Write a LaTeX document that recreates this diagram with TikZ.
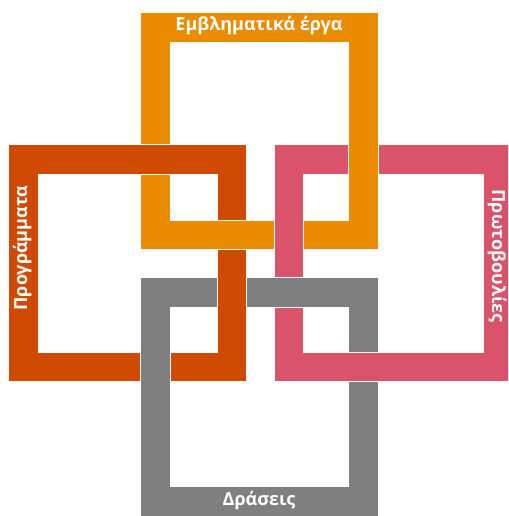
\documentclass[tikz,border=0pt]{standalone}
\usepackage{fontspec}
\setmainfont{Open Sans}
\definecolor{tangerine}{HTML}{EB8C00}
\definecolor{rust}{HTML}{D04A02}
\definecolor{rose}{HTML}{DB536A}
\definecolor{slate}{HTML}{7F7F7F}
\begin{document}
\begin{tikzpicture}
    [x=1pt, y=-1pt,
      frame/.style={fill=#1, even odd rule, draw=white, line width=0.7pt},
      patch/.style={fill=#1},
      edge/.style={draw=white, line width=0.7pt},
      nametext/.style={text=white, inner sep=0pt,
        font=\bfseries\fontsize{18}{18}\selectfont},
     ]
    \useasboundingbox (0,0) rectangle (508,516);
    \clip (0,0) rectangle (508,516);
    % the four frames
    \path[frame=tangerine] (140,12) rectangle (378,249) (170,42) rectangle (348,220);
    \path[frame=rust] (8,144) rectangle (246,381) (38,174) rectangle (217,352);
    \path[frame=rose] (274,144) rectangle (512,381) (303,174) rectangle (483,352);
    \path[frame=slate] (140,277) rectangle (378,516) (170,307) rectangle (348,486);
    % crossings where the earlier frame lies on top
    \fill[patch=tangerine] (216,220) rectangle (247,249);
    \draw[edge] (216,220) -- (247,220) (216,249) -- (247,249);
    \fill[patch=tangerine] (348,143) rectangle (378,175);
    \draw[edge] (348,143) -- (348,175) (378,143) -- (378,175);
    \fill[patch=rust] (217,276) rectangle (246,308);
    \draw[edge] (217,276) -- (217,308) (246,276) -- (246,308);
    \fill[patch=rose] (347,352) rectangle (379,381);
    \draw[edge] (347,352) -- (379,352) (347,381) -- (379,381);
    % names
    \node[nametext] (toptext) at (259,26) {Εμβληματικά έργα};
    \node[nametext, rotate=90] (lefttext) at (22,248) {Προγράμματα};
    \node[nametext, rotate=-90] (righttext) at (497,256) {Πρωτοβουλίες};
    \node[nametext] (bottomtext) at (259,500) {Δράσεις};
\end{tikzpicture}
\end{document}
